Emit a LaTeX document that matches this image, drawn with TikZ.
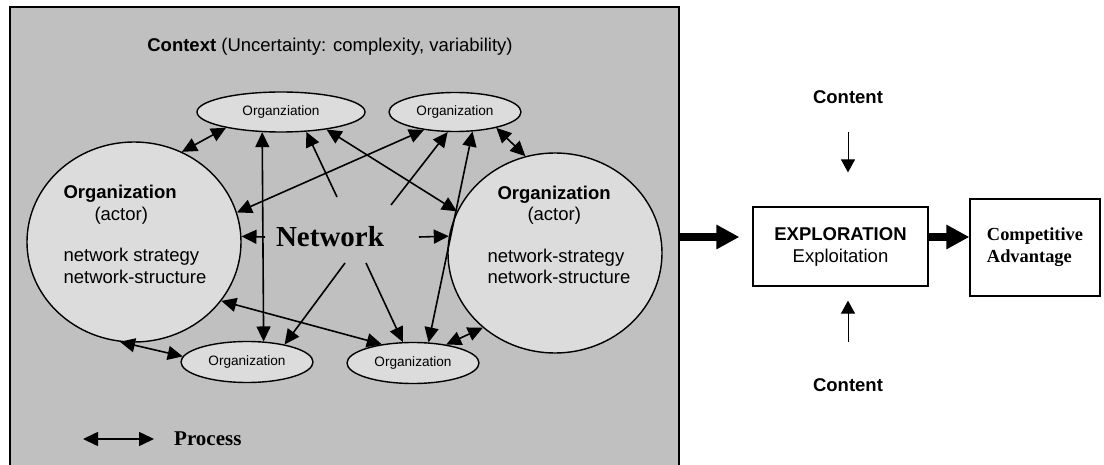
\documentclass[tikz,border=0pt]{standalone}
\usepackage{fontspec}
\setmainfont{Liberation Serif}
\setsansfont{Liberation Sans}
\usetikzlibrary{arrows.meta,shapes.geometric}
\definecolor{ctxgray}{HTML}{C0C0C0}
\definecolor{orgfill}{HTML}{DCDCDC}
\tikzset{
  bigorg/.style={draw, ellipse, fill=orgfill, line width=1.4pt, inner sep=0pt,
    minimum width=214pt, minimum height=200pt},
  smallorg/.style={draw, ellipse, fill=orgfill, line width=1.4pt, inner sep=0pt,
    font=\sffamily\fontsize{13.6}{15}\selectfont},
  sftext/.style={inner sep=0pt, font=\sffamily\fontsize{18.5}{21.5}\selectfont},
  outbox/.style={draw, line width=1.2pt, inner sep=0pt, align=center},
  netarr/.style={line width=1.6pt, -{Triangle[length=15pt,width=14pt]}},
  dblarr/.style={line width=1.6pt, {Triangle[length=15pt,width=14pt]}-{Triangle[length=15pt,width=14pt]}},
  fatarr/.style={line width=8pt, -{Triangle[length=23pt,width=23pt]}},
  cntarr/.style={line width=1pt, -{Triangle[length=13pt,width=14pt]}}
}
\begin{document}
\begin{tikzpicture}[x=1pt,y=-1pt]
    \useasboundingbox (0,0) rectangle (1104,465);
    % context area
    \fill[ctxgray] (10,7) rectangle (679,480);
    \draw[line width=1.5pt] (10,480) -- (10,7) -- (679,7) -- (679,480);
    \node[sftext] (ctx) at (330,47) {\textbf{Context} (Uncertainty: complexity, variability)};

    % actors and partners
    \node[bigorg] (lorg) at (134,242) {};
    \node[bigorg] (rorg) at (555,253) {};
    \node[sftext, align=left] (ltxt) at (135,234.5)
        {\textbf{Organization}\\\hspace*{31pt}(actor)\\[20pt]network strategy\\network-structure};
    \node[sftext, align=left] (rtxt) at (559,235)
        {\hspace*{10pt}\textbf{Organization}\\\hspace*{40pt}(actor)\\[20pt]network-strategy\\network-structure};
    \node[smallorg, minimum width=168pt, minimum height=40pt] (e1) at (281,112) {Organziation};
    \node[smallorg, minimum width=132pt, minimum height=39pt] (e2) at (455,112) {Organization};
    \node[smallorg, minimum width=132pt, minimum height=41pt] (b1) at (247,362) {Organization};
    \node[smallorg, minimum width=132pt, minimum height=41pt] (b2) at (413,363) {Organization};
    \node[inner sep=0pt, font=\bfseries\fontsize{29}{32}\selectfont] (net) at (330,237) {Network};

    % network ties
    \coordinate (n1) at (337,197);
    \coordinate (n2) at (391,205);
    \coordinate (n3) at (345,263);
    \coordinate (n4) at (366,263);
    \coordinate (n5) at (265,237);
    \coordinate (n6) at (419,237);
    \foreach \t/\h in {n1/e1.322, n2/e2.250, n3/b1.25, n4/b2.116, n5/lorg.3, n6/rorg.171}
        \draw[netarr] (\t) -- (\h);
    \foreach \a/\b in {lorg.62/e1.196, e1.227/b1.51, e1.339/rorg.157, lorg.16/e2.210,
                       e2.312/b2.53, e2.339/rorg.107, lorg.326.6/b2.149, rorg.226/b2.29,
                       lorg.262/b1.175}
        \draw[dblarr] (\a) -- (\b);

    % legend
    \node[inner sep=0pt, anchor=west, font=\bfseries\fontsize{21}{24}\selectfont] (proc) at (174,439) {Process};
    \draw[dblarr] ([xshift=-20pt]proc.west) -- ++(-71,0);

    % outcome
    \node[outbox, sftext, font=\sffamily\fontsize{18.5}{22}\selectfont,
          minimum width=175pt, minimum height=79pt] (expl) at (840.5,246.5)
        {\textbf{EXPLORATION}\\Exploitation};
    \node[outbox, align=left, font=\bfseries\fontsize{18.4}{22}\selectfont,
          minimum width=130pt, minimum height=97pt] (comp) at (1035,247.5)
        {Competitive\\Advantage};
    \node[sftext, font=\sffamily\bfseries\fontsize{18.5}{21.5}\selectfont] (ctop) at (848,97) {Content};
    \node[sftext, font=\sffamily\bfseries\fontsize{18.5}{21.5}\selectfont] (cbot) at (848,385) {Content};

    \coordinate (ctxr) at (679,237);
    \draw[fatarr, shorten >=13pt] (ctxr) -- (expl.west |- ctxr);
    \draw[fatarr] (expl.east |- ctxr) -- (comp.west |- ctxr);
    \draw[cntarr, shorten <=28pt, shorten >=34pt] (ctop.south) -- (ctop.south |- expl.north);
    \draw[cntarr, shorten <=36pt, shorten >=14pt] (cbot.north) -- (cbot.north |- expl.south);
\end{tikzpicture}
\end{document}
